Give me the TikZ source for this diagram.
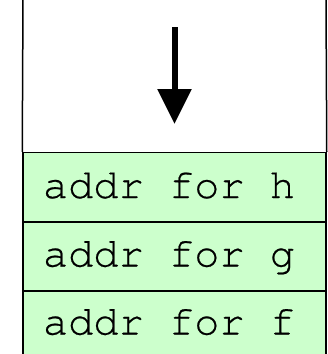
\documentclass[tikz,border=0pt]{standalone}
\usepackage{fontspec}
\newfontfamily\cour[FakeBold=0.5]{TeX Gyre Cursor}
\usetikzlibrary{arrows.meta}
\definecolor{cellgreen}{RGB}{204,255,204}
\begin{document}
\begin{tikzpicture}[x=1pt,y=-1pt,
  cell/.style={draw=black, line width=1.5pt, fill=cellgreen, minimum width=303pt,
    minimum height=69pt, inner sep=0pt},
  celltext/.style={anchor=base, inner sep=0pt, font=\cour\fontsize{42}{44}\selectfont},
  wall/.style={draw=black, line width=1.5pt},
  growarrow/.style={line width=6pt, -{Triangle[length=35pt,width=33pt]}}]
\fill[white] (0,0) rectangle (328,354);
\clip (0,0) rectangle (328,354);
\useasboundingbox (0,0) rectangle (328,354);
\node[cell] (h) at (174.5,187) {};
\node[cell] (g) at (174.5,256.5) {};
\node[cell] (f) at (174.5,325.5) {};
\node[celltext] (th) at (169,198) {addr for h};
\node[celltext] (tg) at (169,266.5) {addr for g};
\node[celltext] (tf) at (169,334.5) {addr for f};
\coordinate (tl) at (23,-2);
\coordinate (tr) at (326,-2);
\draw[wall] (tl) -- (h.north west);
\draw[wall] (tr) -- (h.north east);
\coordinate (a0) at (174.5,27);
\coordinate (a1) at (174.5,124);
\draw[growarrow] (a0) -- (a1);
\end{tikzpicture}
\end{document}
